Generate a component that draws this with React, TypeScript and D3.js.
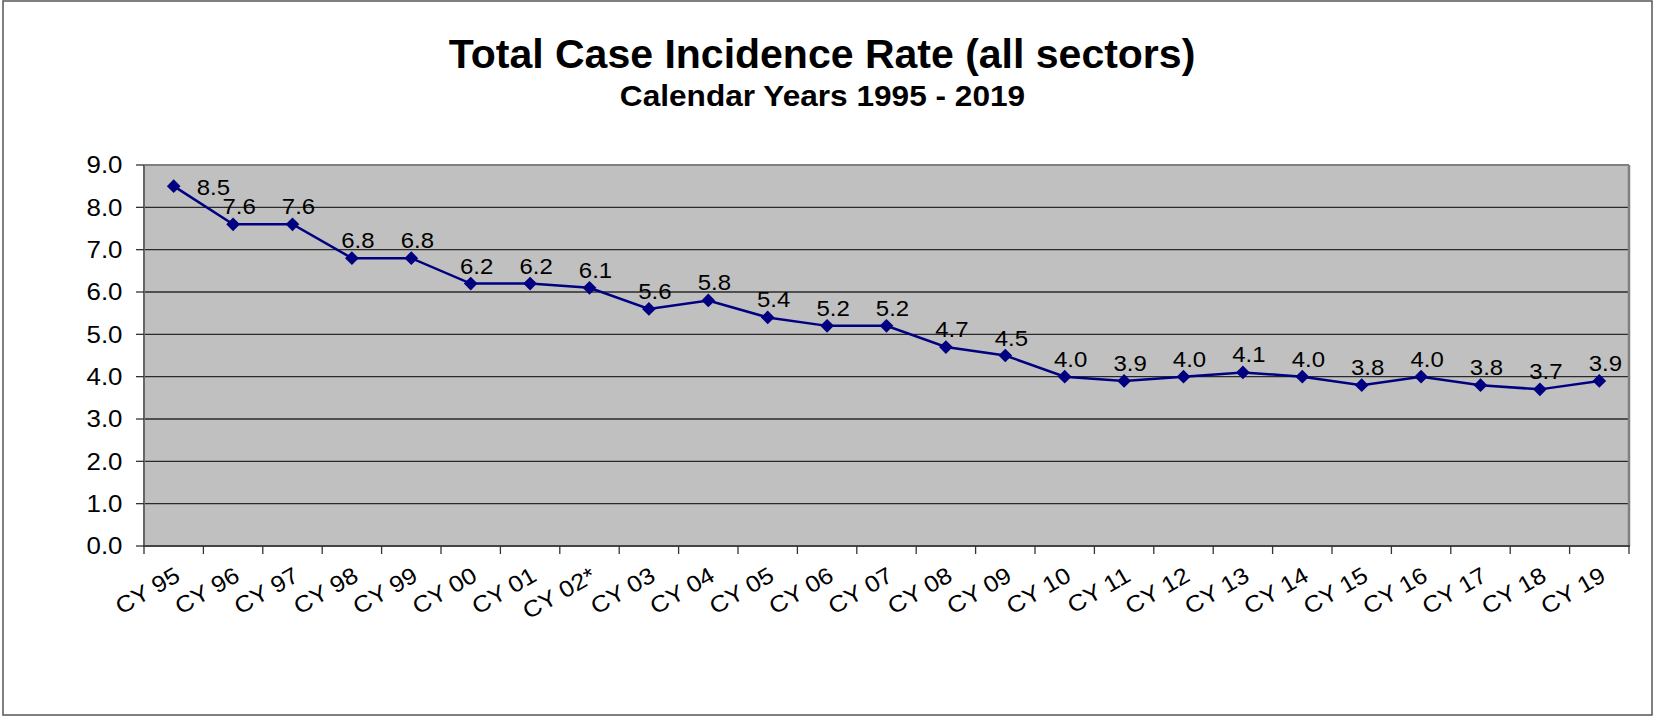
import React from "react";
import * as d3 from "d3";

const categories = [
  "CY 95", "CY 96", "CY 97", "CY 98", "CY 99", "CY 00", "CY 01", "CY 02*",
  "CY 03", "CY 04", "CY 05", "CY 06", "CY 07", "CY 08", "CY 09", "CY 10",
  "CY 11", "CY 12", "CY 13", "CY 14", "CY 15", "CY 16", "CY 17", "CY 18", "CY 19",
];
const rates = [
  8.5, 7.6, 7.6, 6.8, 6.8, 6.2, 6.2, 6.1, 5.6, 5.8, 5.4, 5.2, 5.2, 4.7, 4.5,
  4.0, 3.9, 4.0, 4.1, 4.0, 3.8, 4.0, 3.8, 3.7, 3.9,
];
const yTicks = [0, 1, 2, 3, 4, 5, 6, 7, 8, 9];
const titleText = "Total Case Incidence Rate (all sectors)";
const subtitleText = "Calendar Years 1995 - 2019";

const W = 1655;
const H = 716;
const plot = { left: 144, right: 1629, top: 165, bottom: 546 };
const FONT = "'Liberation Sans', Arial, sans-serif";
const NAVY = "#000080";

export default function App() {
  const x = d3.scaleBand<string>().domain(categories).range([plot.left, plot.right]);
  const y = d3.scaleLinear().domain([0, 9]).range([plot.bottom, plot.top]);
  const cx = (c: string) => (x(c) as number) + x.bandwidth() / 2;

  const line = d3
    .line<number>()
    .x((_, i) => cx(categories[i]))
    .y((d) => y(d));

  const diamond = d3.symbol().type(d3.symbolDiamond2).size(120)();
  const labelSize = 22;
  const stretch = 1.09;

  return (
    <svg
      width={W}
      height={H}
      style={{ position: "absolute", left: 0, top: 0, background: "#fff" }}
      fontFamily={FONT}
    >
      <rect x={3} y={1} width={1649} height={714} fill="#fff" stroke="#555" strokeWidth={1.5} />

      <text
        transform={`translate(822,67.5) scale(1.025,1)`}
        textAnchor="middle"
        fontSize={40}
        fontWeight="bold"
        fill="#000"
      >
        {titleText}
      </text>
      <text
        transform={`translate(822.5,105.5) scale(1.09,1)`}
        textAnchor="middle"
        fontSize={29}
        fontWeight="bold"
        fill="#000"
      >
        {subtitleText}
      </text>

      {/* plot area */}
      <rect
        x={plot.left}
        y={plot.top}
        width={plot.right - plot.left}
        height={plot.bottom - plot.top}
        fill="#C0C0C0"
      />
      {yTicks
        .filter((t) => t > 0 && t < 9)
        .map((t) => (
          <line
            key={"g" + t}
            x1={plot.left}
            x2={plot.right}
            y1={y(t)}
            y2={y(t)}
            stroke="#2a2a2a"
            strokeWidth={1.4}
          />
        ))}
      {/* plot border */}
      <line x1={plot.left} x2={plot.right} y1={plot.top} y2={plot.top} stroke="#808080" strokeWidth={2} />
      <line x1={plot.right} x2={plot.right} y1={plot.top} y2={plot.bottom} stroke="#808080" strokeWidth={2.5} />
      <line x1={plot.left} x2={plot.left} y1={plot.top} y2={plot.bottom} stroke="#666" strokeWidth={2} />
      <line x1={plot.left - 1} x2={plot.right + 1} y1={plot.bottom} y2={plot.bottom} stroke="#444" strokeWidth={2} />

      {/* y ticks & labels */}
      {yTicks.map((t) => (
        <g key={"y" + t}>
          <line x1={plot.left - 8} x2={plot.left} y1={y(t)} y2={y(t)} stroke="#333" strokeWidth={1.3} />
          <text
            transform={`translate(122.5,${y(t)}) scale(1.1,1)`}
            dy="0.36em"
            textAnchor="end"
            fontSize={23.5}
            fill="#000"
          >
            {t.toFixed(1)}
          </text>
        </g>
      ))}

      {/* x ticks */}
      {categories.map((c) => (
        <line
          key={"xt" + c}
          x1={x(c) as number}
          x2={x(c) as number}
          y1={plot.bottom}
          y2={plot.bottom + 8}
          stroke="#333"
          strokeWidth={1.3}
        />
      ))}
      <line x1={plot.right} x2={plot.right} y1={plot.bottom} y2={plot.bottom + 8} stroke="#333" strokeWidth={1.3} />

      {/* x labels */}
      {categories.map((c) => {
        const ex = cx(c) + 8;
        const ey = plot.bottom + 34;
        return (
          <text
            key={"xl" + c}
            textAnchor="end"
            fontSize={23}
            fill="#000"
            transform={`translate(${ex},${ey}) rotate(-30) scale(1.1,1)`}
          >
            {c}
          </text>
        );
      })}

      {/* series */}
      <path d={line(rates) || ""} fill="none" stroke={NAVY} strokeWidth={2.5} />
      {rates.map((v, i) => (
        <path
          key={"m" + i}
          d={diamond || ""}
          transform={`translate(${cx(categories[i])},${y(v)})`}
          fill={NAVY}
        />
      ))}

      {/* data labels */}
      {rates.map((v, i) => {
        const px = cx(categories[i]);
        const py = y(v);
        let lx = px + 6;
        let ly = py - 10;
        let anchor: "middle" | "start" = "middle";
        if (ly - labelSize * 0.75 < plot.top) {
          lx = px + 23;
          ly = py + 9;
          anchor = "start";
        }
        return (
          <text
            key={"dl" + i}
            transform={`translate(${lx},${ly}) scale(${stretch},1)`}
            textAnchor={anchor}
            fontSize={labelSize}
            fill="#000"
          >
            {v.toFixed(1)}
          </text>
        );
      })}
    </svg>
  );
}
